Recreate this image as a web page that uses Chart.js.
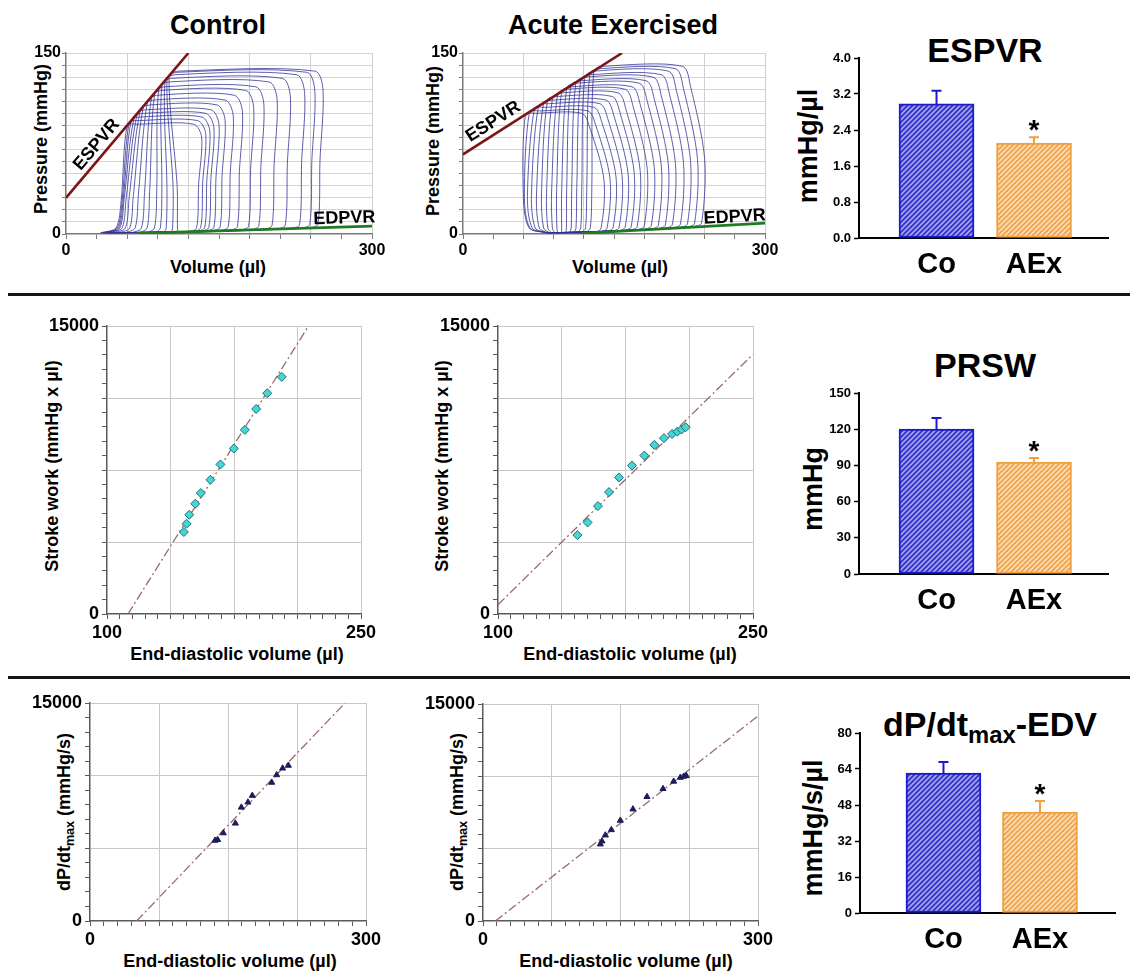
<!DOCTYPE html>
<html>
<head>
<meta charset="utf-8">
<script src="https://cdn.jsdelivr.net/npm/chart.js@4.4.1/dist/chart.umd.min.js"></script>
<style>
  body { margin: 0; background: #fff; }
  #page { position: relative; width: 1130px; height: 976px; overflow: hidden; background: #fff;
          font-family: 'Liberation Sans', Arial, sans-serif; }
  canvas { position: absolute; }
  .t { position: absolute; font-weight: bold; white-space: nowrap; color: #000; line-height: 1;
       transform: translate(-50%, -50%); }
  .v { transform: translate(-50%, -50%) rotate(-90deg); }
  .t sub { font-size: 0.7em; vertical-align: -0.3em; line-height: 0; }
  .rule { position: absolute; left: 8px; width: 1122px; height: 3px; background: #151515; }
</style>
</head>
<body>
<div id="page">
  <div class="t" style="left:218px;top:25px;font-size:27px">Control</div>
  <div class="t" style="left:613px;top:25px;font-size:27px">Acute Exercised</div>
  <div class="t" style="left:985px;top:50px;font-size:34px">ESPVR</div>
  <div class="t v" style="left:41px;top:139px;font-size:18px">Pressure (mmHg)</div>
  <div class="t v" style="left:433px;top:141px;font-size:18px">Pressure (mmHg)</div>
  <div class="t" style="left:218px;top:267px;font-size:18px">Volume (µl)</div>
  <div class="t" style="left:620px;top:267px;font-size:18px">Volume (µl)</div>
  <div class="t v" style="left:808px;top:146px;font-size:27px">mmHg/µl</div>

  <div class="rule" style="top:293px"></div>

  <div class="t v" style="left:52px;top:466px;font-size:18px">Stroke work (mmHg x µl)</div>
  <div class="t v" style="left:442px;top:466px;font-size:18px">Stroke work (mmHg x µl)</div>
  <div class="t" style="left:237px;top:654px;font-size:18px">End-diastolic volume (µl)</div>
  <div class="t" style="left:630px;top:654px;font-size:18px">End-diastolic volume (µl)</div>
  <div class="t" style="left:985px;top:365px;font-size:34px">PRSW</div>
  <div class="t v" style="left:813px;top:489px;font-size:27px">mmHg</div>

  <div class="rule" style="top:676px"></div>

  <div class="t v" style="left:64px;top:812px;font-size:18px">dP/dt<sub>max</sub> (mmHg/s)</div>
  <div class="t v" style="left:457px;top:812px;font-size:18px">dP/dt<sub>max</sub> (mmHg/s)</div>
  <div class="t" style="left:230px;top:961px;font-size:18px">End-diastolic volume (µl)</div>
  <div class="t" style="left:626px;top:961px;font-size:18px">End-diastolic volume (µl)</div>
  <div class="t" style="left:990px;top:724px;font-size:34px">dP/dt<sub>max</sub>-EDV</div>
  <div class="t v" style="left:813px;top:828px;font-size:27px">mmHg/s/µl</div>
</div>
<script>
// ---- pressure-volume loops (largest to smallest) ----
const ctrlEsv  = [101, 99, 97, 94, 91, 87, 84, 80, 76, 73, 70, 67, 64, 62, 60];
const ctrlPes  = [131, 129, 127, 124, 121, 117, 114, 110, 106, 103, 100, 97, 94, 92, 90];
const ctrlPmax = [135, 134, 132, 129, 126, 122, 119, 115, 111, 107, 103, 100, 97, 94, 91];
const ctrlEdv  = [252, 244, 234, 220, 207, 194, 184, 173, 164, 156, 150, 145, 141, 137, 133];
const ctrlKnee = [109, 105, 99, 94, 89, 82, 77, 71, 66, 62, 59, 57, 56, 55, 54];
const ctrlVmin = [110, 103, 96, 88, 80, 72, 65, 58, 52, 47, 43, 40, 38, 36, 34];
const ctrlEspvr = [[0, 30], [120, 150]];
const ctrlEdpvr = [[70, 0.5], [300, 6.5]];

const aexEsv  = [130, 126, 121, 117, 112, 107, 103, 98, 94, 89, 84, 80, 75, 71, 66, 62];
const aexPes  = [135, 133, 130, 128, 125, 123, 121, 118, 116, 113, 111, 108, 106, 104, 101, 99];
const aexPmax = [139, 137, 135, 132, 130, 127, 125, 122, 120, 117, 114, 111, 108, 105, 102, 100];
const aexEdv  = [240, 233, 226, 219, 211, 204, 197, 190, 183, 176, 170, 164, 158, 152, 146, 140];
const aexKnee = [128, 123, 118, 113, 108, 103, 98, 93, 88, 83, 78, 73, 68, 64, 61, 60];
const aexVmin = [122, 118, 114, 110, 106, 102, 98, 94, 91, 88, 86, 84, 83, 83, 83, 83];
const aexEspvr = [[0, 66], [158, 150]];
const aexEdpvr = [[118, 0.5], [300, 9]];

// ---- preload recruitable stroke work ----
const swCtrlEdv = [145.4, 147.0, 148.6, 152.1, 155.4, 161.1, 167.0, 174.9, 181.4, 188.1, 194.6, 203.2];
const swCtrl    = [4270, 4700, 5170, 5740, 6300, 6990, 7790, 8620, 9590, 10680, 11500, 12350];
const swCtrlFit = [[112.4, 0], [219, 15000]];
const swAexEdv  = [146.7, 152.7, 158.8, 165.3, 171.2, 178.8, 186.1, 192.0, 197.6, 202.4, 205.5, 208.0, 210.4];
const swAex     = [4110, 4770, 5620, 6350, 7110, 7730, 8250, 8810, 9160, 9380, 9500, 9610, 9730];
const swAexFit  = [[100, 485], [250, 13526]];

// ---- dP/dt max vs end-diastolic volume ----
const dpCtrlEdv = [135.9, 138.8, 144.9, 158.0, 164.5, 171.7, 176.4, 197.5, 202.9, 209.4, 215.6];
const dpCtrl    = [5540, 5590, 6050, 6720, 7820, 8170, 8630, 9530, 10050, 10510, 10700];
const dpCtrlFit = [[50.7, 0], [277.2, 15000]];
const dpAexEdv  = [128.0, 129.8, 133.5, 140.0, 149.8, 163.6, 178.9, 196.4, 208.0, 215.3, 218.9, 221.8];
const dpAex     = [5310, 5520, 5930, 6300, 6950, 7730, 8590, 9140, 9650, 9920, 9990, 10040];
const dpAexFit  = [[13.5, 0], [300, 14170]];

// ---- group summaries (mean, SEM) ----
const groups = ['Co', 'AEx'];
const espvrMean = [2.98, 2.11], espvrSem = [0.29, 0.13];
const prswMean  = [120.2, 92.8], prswSem = [9.1, 3.3];
const dpdtMean  = [62.2, 44.9], dpdtSem = [4.9, 4.9];
const significant = [false, true];

Chart.defaults.font.family = "'Liberation Sans', Arial, sans-serif";
Chart.defaults.color = '#000';

const page = document.getElementById('page');
const FONT = "'Liberation Sans', Arial, sans-serif";

function addCanvas(area, m) {
  const c = document.createElement('canvas');
  const w = area.r - area.l + m.l + m.r, h = area.b - area.t + m.t + m.b;
  c.width = w; c.height = h;
  c.style.left = (area.l - m.l) + 'px';
  c.style.top = (area.t - m.t) + 'px';
  c.style.width = w + 'px'; c.style.height = h + 'px';
  page.appendChild(c);
  return c;
}

function baseOptions(m, scales, plugins) {
  return {
    responsive: false, animation: false, events: [],
    layout: { padding: { left: 0, top: m.t, right: m.r, bottom: 0 } },
    plugins: Object.assign({ legend: { display: false }, tooltip: { enabled: false } }, plugins || {}),
    scales
  };
}

const pts = arr => arr.map(([x, y]) => ({ x, y }));
const near = (v, step) => Math.abs(v / step - Math.round(v / step)) < 1e-6;

// text written along a fitted line (ESPVR / EDPVR)
const lineLabels = {
  id: 'lineLabels',
  afterDatasetsDraw(chart, args, opts) {
    const { ctx, scales: { x, y } } = chart;
    (opts.items || []).forEach(it => {
      const [a, b] = it.along;
      const ang = Math.atan2(y.getPixelForValue(b[1]) - y.getPixelForValue(a[1]),
                             x.getPixelForValue(b[0]) - x.getPixelForValue(a[0]));
      ctx.save();
      ctx.translate(x.getPixelForValue(it.x), y.getPixelForValue(it.y));
      ctx.rotate(ang);
      ctx.font = 'bold 18px ' + FONT;
      ctx.fillStyle = '#000';
      ctx.textAlign = 'center';
      ctx.textBaseline = 'middle';
      ctx.fillText(it.text, 0, 0);
      ctx.restore();
    });
  }
};

// SEM whiskers and significance star above each bar
const errorBars = {
  id: 'errorBars',
  afterDatasetsDraw(chart, args, opts) {
    const { ctx, scales: { y } } = chart;
    const meta = chart.getDatasetMeta(0);
    opts.sem.forEach((s, i) => {
      const bar = meta.data[i];
      const top = y.getPixelForValue(opts.mean[i] + s);
      ctx.save();
      ctx.strokeStyle = opts.colors[i];
      ctx.lineWidth = 2;
      ctx.beginPath();
      ctx.moveTo(bar.x, bar.y);
      ctx.lineTo(bar.x, top);
      ctx.moveTo(bar.x - 5, top);
      ctx.lineTo(bar.x + 5, top);
      ctx.stroke();
      if (opts.star[i]) {
        ctx.fillStyle = '#000';
        ctx.font = 'bold 28px ' + FONT;
        ctx.textAlign = 'center';
        ctx.textBaseline = 'alphabetic';
        ctx.fillText('*', bar.x, top + 2);
      }
      ctx.restore();
    });
  }
};

function loopPoints(i, d, shape, edpvr) {
  const [[x1, y1], [x2, y2]] = edpvr;
  const edv = d.edv[i], pmax = d.pmax[i], esv = d.esv[i], pes = d.pes[i];
  const knee = d.knee[i], vmin = d.vmin[i];
  const ped = Math.max(0.8, y1 + (edv - x1) * (y2 - y1) / (x2 - x1));
  return pts([
    [vmin, 1],
    [edv + shape.bot - 8, ped],
    [edv + shape.bot, ped + 3],
    [edv + shape.mid, 0.45 * pmax],
    [edv + shape.top, 0.88 * pmax],
    [edv + shape.top - 8, pmax],
    [esv + 10, pmax],
    [esv, pes],
    [knee, 0.3 * pes],
    [0.75 * knee + 0.25 * vmin, 5],
    [vmin, 1]
  ]);
}

function pvChart(area, d, shape, espvr, edpvr, labels) {
  const m = { l: 40, t: 14, r: 25, b: 30 };
  const loops = d.edv.map((_, i) => ({
    data: loopPoints(i, d, shape, edpvr), showLine: true, pointRadius: 0,
    borderColor: 'rgba(50,50,150,0.78)', borderWidth: 1, tension: 0.3
  }));
  new Chart(addCanvas(area, m), {
    type: 'scatter',
    data: { datasets: [
      { data: pts(espvr), showLine: true, pointRadius: 0, borderColor: '#7c1616', borderWidth: 2.6 },
      { data: pts(edpvr), showLine: true, pointRadius: 0, borderColor: '#207a20', borderWidth: 2.6 },
      ...loops
    ] },
    options: baseOptions(m, {
      x: {
        type: 'linear', min: 0, max: 300, afterFit: s => { s.height = m.b; },
        ticks: { stepSize: 30, autoSkip: false, maxRotation: 0, padding: 2,
                 font: { size: 16, weight: 'bold' }, callback: v => (v === 0 || v === 300) ? v : '' },
        grid: { color: c => (c.tick && c.tick.value > 0 && near(c.tick.value, 60)) ? '#cfcfcf' : 'rgba(0,0,0,0)',
                tickColor: '#7a7a7a', tickLength: 5 },
        border: { color: '#7a7a7a', width: 1.5 }
      },
      y: {
        min: 0, max: 150, afterFit: s => { s.width = m.l; },
        ticks: { stepSize: 10, autoSkip: false, padding: 1,
                 font: { size: 16, weight: 'bold' }, callback: v => (v === 0 || v === 150) ? v : '' },
        grid: { color: c => (c.tick && c.tick.value > 0) ? '#d3d3d3' : 'rgba(0,0,0,0)',
                tickColor: '#7a7a7a', tickLength: 4 },
        border: { color: '#7a7a7a', width: 1.5 }
      }
    }, { lineLabels: { items: labels } }),
    plugins: [lineLabels]
  });
}

function fitChart(area, xs, ys, fit, ax, marker) {
  const m = { l: 62, t: 14, r: 28, b: 30 };
  new Chart(addCanvas(area, m), {
    type: 'scatter',
    data: { datasets: [
      Object.assign({ data: xs.map((x, i) => ({ x, y: ys[i] })) }, marker),
      { data: pts(fit), showLine: true, pointRadius: 0, borderColor: '#9a6a6a',
        borderWidth: 1.3, borderDash: [9, 3, 2, 3] }
    ] },
    options: baseOptions(m, {
      x: {
        type: 'linear', min: ax.xmin, max: ax.xmax, afterFit: s => { s.height = m.b; },
        ticks: { stepSize: ax.xstep, autoSkip: false, maxRotation: 0, padding: 3,
                 font: { size: 18, weight: 'bold' },
                 callback: v => (v === ax.xmin || v === ax.xmax) ? v : '' },
        grid: { color: c => (c.tick && c.tick.value > ax.xmin && near(c.tick.value - ax.xmin, ax.xgrid)) ? '#c8c8c8' : 'rgba(0,0,0,0)',
                tickColor: '#5a5a5a', tickLength: 5 },
        border: { color: '#5a5a5a', width: 1.5 }
      },
      y: {
        min: 0, max: 15000, afterFit: s => { s.width = m.l; },
        ticks: { stepSize: ax.ystep, autoSkip: false, padding: 3,
                 font: { size: 18, weight: 'bold' },
                 callback: v => (v === 0 || v === 15000) ? v : '' },
        grid: { color: c => (c.tick && c.tick.value > 0 && near(c.tick.value, ax.ygrid)) ? '#c8c8c8' : 'rgba(0,0,0,0)',
                tickColor: '#5a5a5a', tickLength: 5 },
        border: { color: '#5a5a5a', width: 1.5 }
      }
    })
  });
}

function hatch(bg, fg) {
  const c = document.createElement('canvas');
  c.width = c.height = 5;
  const g = c.getContext('2d');
  g.fillStyle = bg; g.fillRect(0, 0, 5, 5);
  g.strokeStyle = fg; g.lineWidth = 1.7;
  g.beginPath();
  g.moveTo(-1, 6); g.lineTo(6, -1);
  g.moveTo(-1, 1); g.lineTo(1, -1);
  g.moveTo(4, 6); g.lineTo(6, 4);
  g.stroke();
  return g.createPattern(c, 'repeat');
}
const blueFill = hatch('#a2a2ec', '#3030c8');
const orangeFill = hatch('#fcdcb2', '#eea24c');
const edgeColors = ['#1a1ad0', '#f0a040'];

function barChart(area, mean, sem, ax) {
  const m = { l: 45, t: 14, r: 12, b: 45 };
  const xMax = (area.r - area.l) / ax.spacing;
  const pos = groups.map((g, i) => ax.first + i);
  new Chart(addCanvas(area, m), {
    type: 'bar',
    data: { datasets: [{
      data: mean.map((v, i) => ({ x: pos[i], y: v })),
      backgroundColor: [blueFill, orangeFill], borderColor: edgeColors,
      borderWidth: 2, borderSkipped: false, barThickness: 75
    }] },
    options: baseOptions(m, {
      x: {
        type: 'linear', min: 0, max: xMax, offset: false, afterFit: s => { s.height = m.b; },
        afterBuildTicks: s => { s.ticks = pos.map(value => ({ value })); },
        ticks: { autoSkip: false, maxRotation: 0, padding: 10, font: { size: 29, weight: 'bold' },
                 callback: (v, i) => groups[i] },
        grid: { display: false, drawTicks: false },
        border: { color: '#000', width: 2 }
      },
      y: {
        min: 0, max: ax.max, afterFit: s => { s.width = m.l; },
        ticks: { stepSize: ax.step, padding: 3, font: { size: 13, weight: 'bold' },
                 callback: v => v.toFixed(ax.dec) },
        grid: { drawOnChartArea: false, tickLength: 5, tickWidth: 1.5, tickColor: '#000' },
        border: { color: '#000', width: 2 }
      }
    }, { errorBars: { mean, sem, colors: edgeColors, star: significant } }),
    plugins: [errorBars]
  });
}

// row 1: PV loops and end-systolic elastance
pvChart({ l: 66, t: 53, r: 372, b: 234 },
  { esv: ctrlEsv, pes: ctrlPes, pmax: ctrlPmax, edv: ctrlEdv, knee: ctrlKnee, vmin: ctrlVmin },
  { top: 0, mid: -3, bot: -5 }, ctrlEspvr, ctrlEdpvr,
  [{ text: 'ESPVR', x: 30, y: 74, along: ctrlEspvr }, { text: 'EDPVR', x: 273, y: 13, along: ctrlEdpvr }]);
pvChart({ l: 463, t: 53, r: 765, b: 234 },
  { esv: aexEsv, pes: aexPes, pmax: aexPmax, edv: aexEdv, knee: aexKnee, vmin: aexVmin },
  { top: -14, mid: 0, bot: -3 }, aexEspvr, aexEdpvr,
  [{ text: 'ESPVR', x: 30, y: 93, along: aexEspvr }, { text: 'EDPVR', x: 270, y: 14, along: aexEdpvr }]);
barChart({ l: 859, t: 58, r: 1108, b: 238 }, espvrMean, espvrSem,
  { max: 4, step: 0.8, dec: 1, spacing: 97.5, first: 0.795 });

// row 2: stroke work vs EDV
const diamond = { pointStyle: 'rectRot', pointRadius: 4.5, backgroundColor: '#46d6d6', borderColor: '#1d6f74', borderWidth: 1 };
const swAxes = { xmin: 100, xmax: 250, xstep: 7.5, xgrid: 37.5, ystep: 750, ygrid: 3750 };
fitChart({ l: 107, t: 326, r: 361, b: 614 }, swCtrlEdv, swCtrl, swCtrlFit, swAxes, diamond);
fitChart({ l: 498, t: 326, r: 753, b: 614 }, swAexEdv, swAex, swAexFit, swAxes, diamond);
barChart({ l: 859, t: 393, r: 1108, b: 574 }, prswMean, prswSem,
  { max: 150, step: 30, dec: 0, spacing: 97.5, first: 0.795 });

// row 3: dP/dt max vs EDV
const tri = { pointStyle: 'triangle', pointRadius: 3.5, backgroundColor: '#1c1c5c', borderColor: '#1c1c5c', borderWidth: 1 };
const dpAxes = { xmin: 0, xmax: 300, xstep: 15, xgrid: 75, ystep: 1000, ygrid: 5000 };
fitChart({ l: 90, t: 703, r: 366, b: 921 }, dpCtrlEdv, dpCtrl, dpCtrlFit, dpAxes, tri);
fitChart({ l: 483, t: 704, r: 758, b: 921 }, dpAexEdv, dpAex, dpAexFit, dpAxes, tri);
barChart({ l: 860, t: 733, r: 1115, b: 913 }, dpdtMean, dpdtSem,
  { max: 80, step: 16, dec: 0, spacing: 96.5, first: 0.865 });
</script>
</body>
</html>
